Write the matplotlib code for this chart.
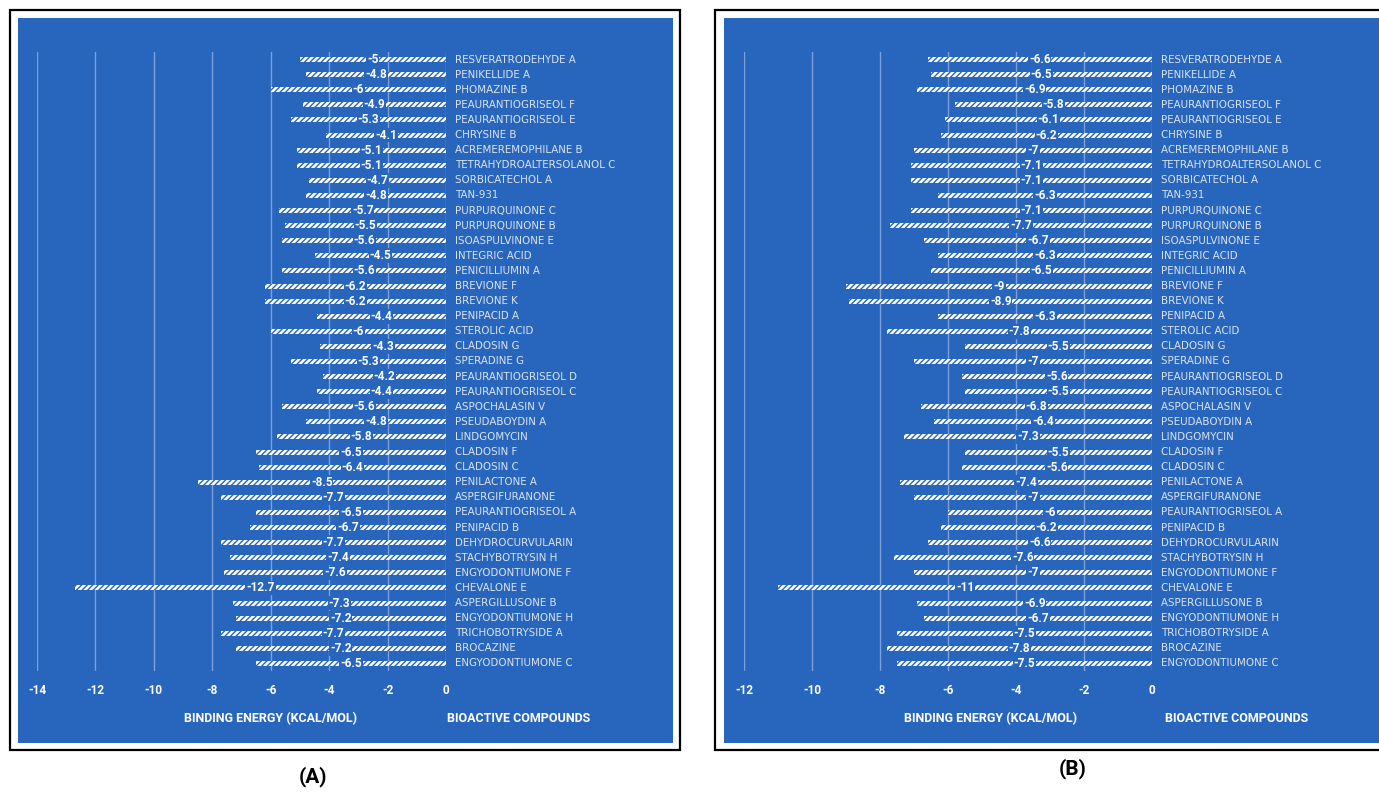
import matplotlib
matplotlib.use("Agg")
import matplotlib.pyplot as plt
from matplotlib.patches import Rectangle

# compound names, top to bottom (same for both panels)
compounds = [
    "RESVERATRODEHYDE A", "PENIKELLIDE A", "PHOMAZINE B", "PEAURANTIOGRISEOL F",
    "PEAURANTIOGRISEOL E", "CHRYSINE B", "ACREMEREMOPHILANE B", "TETRAHYDROALTERSOLANOL C",
    "SORBICATECHOL A", "TAN-931", "PURPURQUINONE C", "PURPURQUINONE B",
    "ISOASPULVINONE E", "INTEGRIC ACID", "PENICILLIUMIN A", "BREVIONE F",
    "BREVIONE K", "PENIPACID A", "STEROLIC ACID", "CLADOSIN G", "SPERADINE G",
    "PEAURANTIOGRISEOL D", "PEAURANTIOGRISEOL C", "ASPOCHALASIN V", "PSEUDABOYDIN A",
    "LINDGOMYCIN", "CLADOSIN F", "CLADOSIN C", "PENILACTONE A", "ASPERGIFURANONE",
    "PEAURANTIOGRISEOL A", "PENIPACID B", "DEHYDROCURVULARIN", "STACHYBOTRYSIN H",
    "ENGYODONTIUMONE F", "CHEVALONE E", "ASPERGILLUSONE B", "ENGYODONTIUMONE H",
    "TRICHOBOTRYSIDE A", "BROCAZINE", "ENGYODONTIUMONE C",
]

# binding energies (kcal/mol)
energy_a = [-5, -4.8, -6, -4.9, -5.3, -4.1, -5.1, -5.1, -4.7, -4.8, -5.7, -5.5, -5.6,
            -4.5, -5.6, -6.2, -6.2, -4.4, -6, -4.3, -5.3, -4.2, -4.4, -5.6, -4.8, -5.8,
            -6.5, -6.4, -8.5, -7.7, -6.5, -6.7, -7.7, -7.4, -7.6, -12.7, -7.3, -7.2,
            -7.7, -7.2, -6.5]
energy_b = [-6.6, -6.5, -6.9, -5.8, -6.1, -6.2, -7, -7.1, -7.1, -6.3, -7.1, -7.7, -6.7,
            -6.3, -6.5, -9, -8.9, -6.3, -7.8, -5.5, -7, -5.6, -5.5, -6.8, -6.4, -7.3,
            -5.5, -5.6, -7.4, -7, -6, -6.2, -6.6, -7.6, -7, -11, -6.9, -6.7, -7.5,
            -7.8, -7.5]

ticks_a = [-14, -12, -10, -8, -6, -4, -2, 0]
ticks_b = [-12, -10, -8, -6, -4, -2, 0]

W, H = 1379, 793
BLUE = "#2866BE"
GRID = "#7D9FDA"
NARROW = ["Roboto", "DejaVu Sans"]

plt.rcParams["hatch.linewidth"] = 1.0


def px(x):
    return x / W


def py(y):
    return 1 - y / H


def panel_box(fig, x0, y0, x1, y1, bx0, by0, bx1, by1):
    # black outer frame and blue chart area, kept behind the axes
    fig.patches.append(Rectangle((px(x0), py(y1)), px(x1) - px(x0), py(y0) - py(y1),
                                 transform=fig.transFigure, facecolor="white",
                                 edgecolor="black", linewidth=1.6, zorder=-3))
    fig.patches.append(Rectangle((px(bx0), py(by1)), px(bx1) - px(bx0), py(by0) - py(by1),
                                 transform=fig.transFigure, facecolor=BLUE,
                                 edgecolor="none", zorder=-2))


def draw_panel(fig, left, right, values, ticks, title_x1, title_x2):
    top, bottom = 52, 671
    ax = fig.add_axes([px(left), py(bottom), px(right) - px(left), (bottom - top) / H])
    ax.patch.set_visible(False)
    n = len(values)
    ypos = list(range(n))
    ax.barh(ypos, values, height=0.33, color="white", edgecolor=BLUE,
            hatch="//////", linewidth=0, zorder=2)
    for y, v, name in zip(ypos, values, compounds):
        ax.text(v / 2, y, "%g" % v, color="white", fontsize=8.5, fontweight="bold",
                family=NARROW, ha="center", va="center", zorder=3,
                bbox=dict(facecolor=BLUE, edgecolor="none", pad=0.6))
        ax.annotate(name, xy=(0, y), xytext=(6.5, 0), textcoords="offset points",
                    color="#DCE4F2", fontsize=7.4, ha="left", va="center",
                    annotation_clip=False)
    ax.set_xlim(ticks[0], 0)
    ax.set_ylim(n - 0.5, -0.5)
    ax.set_xticks(ticks)
    ax.set_xticklabels([str(t) for t in ticks], color="white", fontsize=8.5,
                       fontweight="bold", family=NARROW)
    ax.set_yticks([])
    ax.tick_params(axis="x", length=0, pad=9)
    ax.grid(axis="x", color=GRID, linewidth=1, zorder=1)
    for s in ax.spines.values():
        s.set_visible(False)
    fig.text(px(title_x1), py(719), "BINDING ENERGY (KCAL/MOL)", color="white",
             fontsize=9, fontweight="bold", family=NARROW, ha="center", va="center")
    fig.text(px(title_x2), py(719), "BIOACTIVE COMPOUNDS", color="white",
             fontsize=9, fontweight="bold", family=NARROW, ha="center", va="center")
    return ax


fig = plt.figure(figsize=(W / 100, H / 100), dpi=100)
fig.patch.set_facecolor("white")

panel_box(fig, 10, 10, 680, 750, 18, 18, 673, 743)
panel_box(fig, 715, 10, 1390, 750, 724, 18, 1379, 743)

draw_panel(fig, 37, 446, energy_a, ticks_a, 271, 519)
draw_panel(fig, 744, 1152, energy_b, ticks_b, 990, 1237)

fig.text(px(313), py(777), "(A)", fontsize=15, fontweight="bold", family=NARROW,
         ha="center", va="center")
fig.text(px(1073), py(769), "(B)", fontsize=15, fontweight="bold", family=NARROW,
         ha="center", va="center")

fig.savefig("out.png", dpi=100)
